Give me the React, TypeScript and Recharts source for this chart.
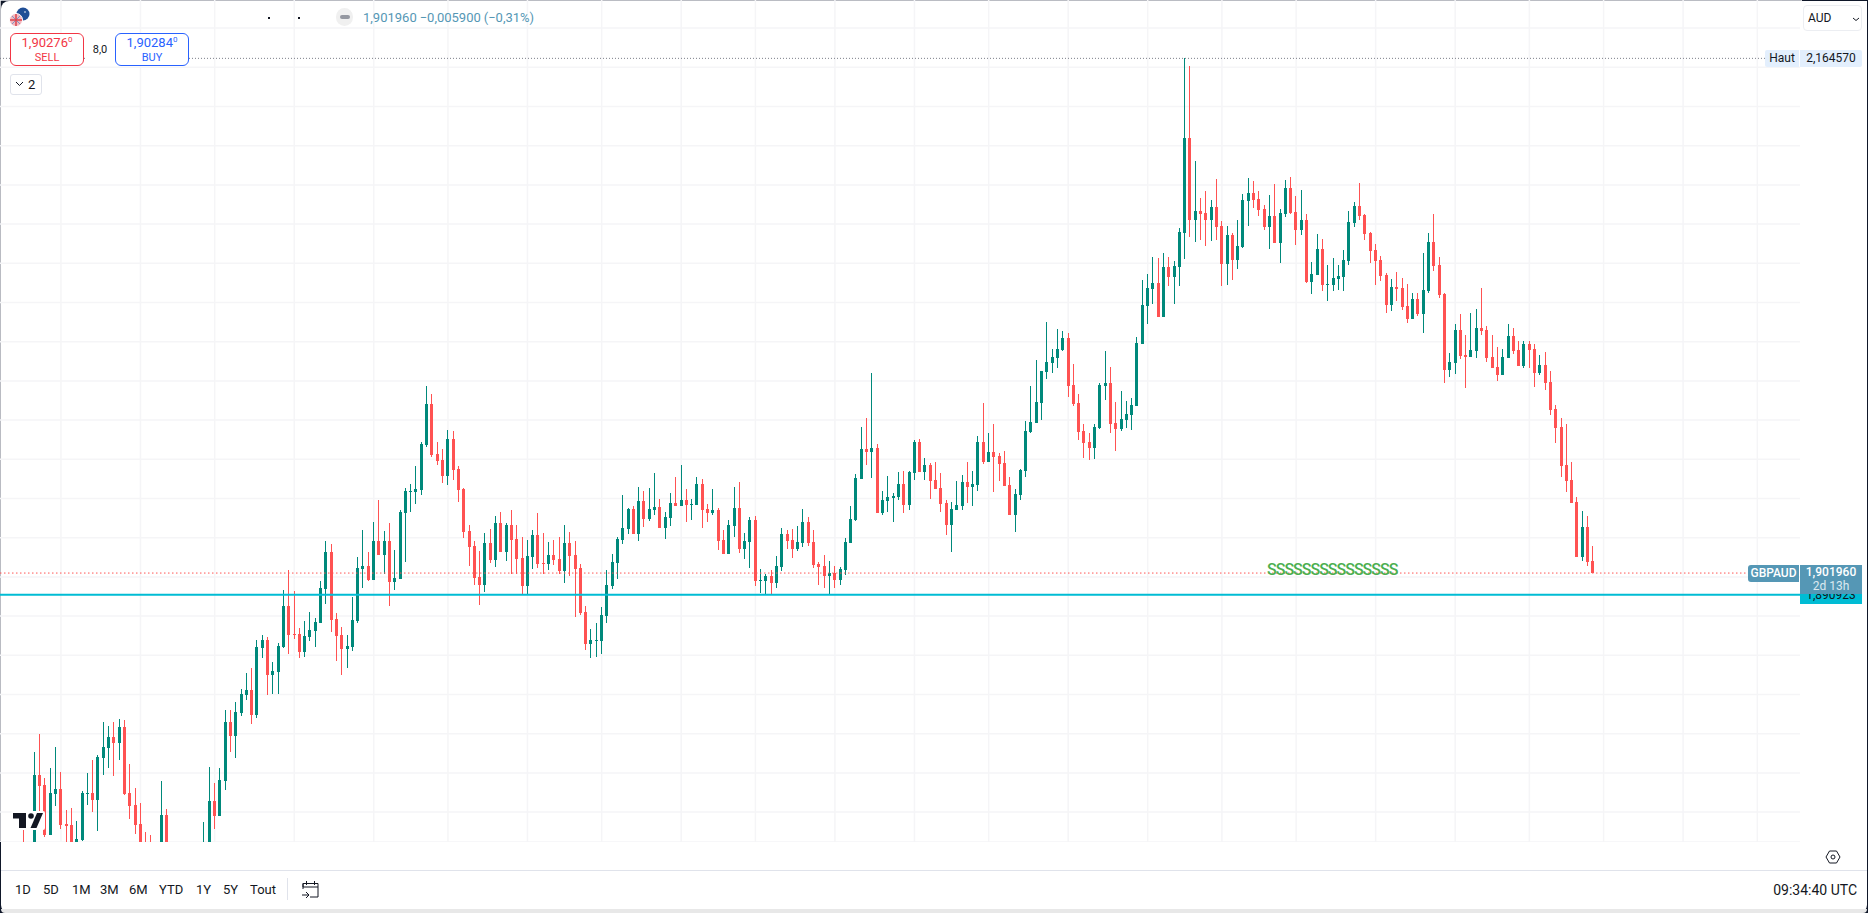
import { Bar, CartesianGrid, ComposedChart, ReferenceLine, XAxis, YAxis } from "recharts";

const _ = null;

// GBPAUD daily candles, oldest first. null = below the visible pane.
const highs = [
  _, _, _, _, 1.7709, _, 1.8107, 1.8198, 1.7972, 1.8023,
  1.8132, 1.8005, 1.7811, 1.7821, 1.7755, 1.7908, 1.8000, 1.8066, 1.8092, 1.8260,
  1.8239, 1.8260, 1.8275, 1.8270, 1.8046, 1.7923, 1.7847, 1.7699, 1.7684, _,
  1.7959, 1.7816, _, _, _, _, _, _, 1.7750, 1.8030,
  1.7949, 1.8025, 1.8321, 1.8321, 1.8362, 1.8428, 1.8510, 1.8535, 1.8678, 1.8703,
  1.8693, 1.8566, 1.8663, 1.8933, 1.9035, 1.8928, 1.8739, 1.8775, 1.8821, 1.8790,
  1.8979, 1.9184, 1.9169, 1.8816, 1.8744, 1.8704, 1.8898, 1.9102, 1.9240, 1.9127,
  1.9280, 1.9393, 1.9235, 1.9276, 1.9138, 1.9342, 1.9452, 1.9475, 1.9566, 1.9689,
  1.9974, 1.9934, 1.9689, 1.9653, 1.9750, 1.9745, 1.9566, 1.9454, 1.9265, 1.9184,
  1.9133, 1.9225, 1.9245, 1.9311, 1.9332, 1.9276, 1.9342, 1.9265, 1.9204, 1.9189,
  1.9240, 1.9327, 1.9225, 1.9179, 1.9189, 1.9204, 1.9265, 1.9230, 1.9184, 1.9067,
  1.8852, 1.8735, 1.8765, 1.8847, 1.9036, 1.9117, 1.9204, 1.9418, 1.9352, 1.9362,
  1.9459, 1.9439, 1.9454, 1.9531, 1.9398, 1.9332, 1.9429, 1.9510, 1.9571, 1.9449,
  1.9398, 1.9510, 1.9500, 1.9373, 1.9449, 1.9352, 1.9240, 1.9291, 1.9459, 1.9485,
  1.9225, 1.9306, 1.9311, 1.9041, 1.9016, 1.9036, 1.9107, 1.9250, 1.9240, 1.9245,
  1.9260, 1.9347, 1.9306, 1.9240, 1.9077, 1.9112, 1.9082, 1.9056, 1.9051, 1.9199,
  1.9362, 1.9526, 1.9765, 1.9811, 2.0041, 1.9679, 1.9439, 1.9515, 1.9429, 1.9536,
  1.9541, 1.9541, 1.9699, 1.9704, 1.9607, 1.9581, 1.9587, 1.9531, 1.9393, 1.9383,
  1.9490, 1.9520, 1.9587, 1.9541, 1.9719, 1.9888, 1.9735, 1.9780, 1.9633, 1.9643,
  1.9510, 1.9449, 1.9551, 1.9796, 1.9974, 2.0107, 2.0051, 2.0301, 2.0163, 2.0265,
  2.0255, 2.0245, 2.0087, 1.9934, 1.9780, 1.9735, 1.9780, 1.9989, 2.0153, 2.0071,
  1.9893, 1.9949, 1.9898, 1.9913, 2.0224, 2.0515, 2.0545, 2.0632, 2.0627, 2.0652,
  2.0632, 2.0612, 2.0780, 2.1646, 2.1606, 2.1122, 2.0933, 2.0969, 2.0923, 2.1030,
  2.0816, 2.0790, 2.0755, 2.0821, 2.0953, 2.1035, 2.1020, 2.0969, 2.0897, 2.0948,
  2.1004, 2.0877, 2.1025, 2.1040, 2.0943, 2.0974, 2.0851, 2.0606, 2.0749, 2.0724,
  2.0591, 2.0627, 2.0591, 2.0668, 2.0867, 2.0912, 2.1009, 2.0851, 2.0759, 2.0698,
  2.0637, 2.0550, 2.0520, 2.0555, 2.0525, 2.0494, 2.0448, 2.0448, 2.0652, 2.0754,
  2.0851, 2.0632, 2.0449, 2.0143, 2.0290, 2.0342, 2.0234, 2.0347, 2.0367, 2.0474,
  2.0280, 2.0234, 2.0173, 2.0163, 2.0290, 2.0270, 2.0204, 2.0204, 2.0204, 2.0188,
  2.0132, 2.0148, 2.0051, 1.9877, 1.9811, 1.9780, 1.9586, 1.9408, 1.9336, 1.9311, 1.9158,
];

const lows = [
  _, _, _, _, 1.7500, _, 1.7573, 1.7802, 1.7675, 1.7683,
  1.7831, 1.7714, 1.7641, 1.7607, 1.7624, 1.7655, 1.7836, 1.7801, 1.7704, 1.7989,
  1.8025, 1.7984, 1.8066, 1.7888, 1.7765, 1.7689, 1.7607, 1.7580, 1.7570, _,
  1.7590, 1.7590, _, _, _, _, _, _, 1.7573, 1.7607,
  1.7714, 1.7780, 1.7913, 1.8107, 1.8076, 1.8290, 1.8372, 1.8250, 1.8280, 1.8586,
  1.8398, 1.8403, 1.8403, 1.8637, 1.8607, 1.8683, 1.8586, 1.8591, 1.8673, 1.8642,
  1.8765, 1.8862, 1.8720, 1.8571, 1.8499, 1.8535, 1.8623, 1.8765, 1.8944, 1.8980,
  1.8985, 1.9112, 1.9015, 1.8852, 1.8934, 1.8990, 1.9077, 1.9332, 1.9373, 1.9418,
  1.9663, 1.9612, 1.9572, 1.9480, 1.9469, 1.9495, 1.9383, 1.9199, 1.9056, 1.8959,
  1.8857, 1.8924, 1.9072, 1.9051, 1.9128, 1.9082, 1.9016, 1.9016, 1.8908, 1.8908,
  1.9041, 1.9046, 1.9016, 1.9036, 1.9061, 1.9016, 1.8970, 1.9005, 1.8796, 1.8806,
  1.8628, 1.8587, 1.8592, 1.8607, 1.8765, 1.8939, 1.8990, 1.9168, 1.9219, 1.9219,
  1.9184, 1.9255, 1.9286, 1.9317, 1.9250, 1.9194, 1.9260, 1.9362, 1.9362, 1.9281,
  1.9291, 1.9367, 1.9250, 1.9281, 1.9317, 1.9138, 1.9117, 1.9117, 1.9204, 1.9122,
  1.9092, 1.9046, 1.8954, 1.8919, 1.8908, 1.8908, 1.8944, 1.9031, 1.9143, 1.9097,
  1.9133, 1.9153, 1.9158, 1.9046, 1.8959, 1.8944, 1.8908, 1.8944, 1.8959, 1.9010,
  1.9174, 1.9286, 1.9500, 1.9571, 1.9505, 1.9326, 1.9316, 1.9331, 1.9280, 1.9393,
  1.9326, 1.9342, 1.9495, 1.9536, 1.9495, 1.9398, 1.9449, 1.9332, 1.9214, 1.9128,
  1.9342, 1.9342, 1.9378, 1.9362, 1.9439, 1.9577, 1.9587, 1.9434, 1.9490, 1.9464,
  1.9316, 1.9229, 1.9393, 1.9510, 1.9735, 1.9786, 1.9801, 2.0010, 2.0041, 2.0066,
  2.0153, 1.9918, 1.9873, 1.9699, 1.9607, 1.9597, 1.9602, 1.9755, 1.9903, 1.9735,
  1.9643, 1.9745, 1.9760, 1.9750, 1.9872, 2.0188, 2.0290, 2.0392, 2.0326, 2.0326,
  2.0484, 2.0392, 2.0484, 2.0622, 2.0734, 2.0709, 2.0719, 2.0688, 2.0714, 2.0719,
  2.0484, 2.0489, 2.0515, 2.0571, 2.0678, 2.0790, 2.0882, 2.0841, 2.0770, 2.0673,
  2.0703, 2.0601, 2.0836, 2.0851, 2.0693, 2.0744, 2.0499, 2.0443, 2.0540, 2.0458,
  2.0407, 2.0458, 2.0463, 2.0458, 2.0591, 2.0785, 2.0821, 2.0719, 2.0601, 2.0489,
  2.0509, 2.0346, 2.0356, 2.0407, 2.0361, 2.0295, 2.0316, 2.0331, 2.0244, 2.0448,
  2.0561, 2.0423, 1.9989, 2.0020, 2.0035, 2.0112, 1.9964, 2.0122, 2.0117, 2.0234,
  2.0097, 2.0066, 2.0000, 2.0030, 2.0117, 2.0137, 2.0076, 2.0066, 2.0066, 1.9969,
  2.0030, 1.9954, 1.9826, 1.9683, 1.9510, 1.9433, 1.9377, 1.9102, 1.9081, 1.9056, 1.9020,
];

const opens = [
  _, _, _, _, 1.7600, _, 1.7607, 1.7989, 1.7938, 1.7683,
  1.7893, 1.7918, 1.7740, 1.7735, 1.7632, 1.7658, 1.7893, 1.7898, 1.7862, 1.8076,
  1.8127, 1.8183, 1.8153, 1.8234, 1.7898, 1.7836, 1.7740, 1.7640, 1.7630, _,
  1.7624, 1.7785, _, _, _, _, _, _, 1.7590, 1.7624,
  1.7857, 1.7780, 1.7959, 1.8260, 1.8188, 1.8306, 1.8398, 1.8423, 1.8296, 1.8637,
  1.8678, 1.8500, 1.8515, 1.8642, 1.8851, 1.8709, 1.8709, 1.8617, 1.8693, 1.8724,
  1.8765, 1.8939, 1.9128, 1.8786, 1.8704, 1.8632, 1.8643, 1.8775, 1.9041, 1.9056,
  1.8985, 1.9184, 1.9112, 1.9184, 1.8975, 1.8990, 1.9327, 1.9434, 1.9434, 1.9444,
  1.9674, 1.9883, 1.9628, 1.9597, 1.9515, 1.9704, 1.9551, 1.9449, 1.9235, 1.9158,
  1.9000, 1.8959, 1.9174, 1.9087, 1.9276, 1.9128, 1.9265, 1.9194, 1.9097, 1.8954,
  1.9102, 1.9215, 1.9072, 1.9067, 1.9112, 1.9092, 1.9031, 1.9174, 1.9112, 1.9046,
  1.8821, 1.8658, 1.8674, 1.8674, 1.8801, 1.8954, 1.9071, 1.9189, 1.9245, 1.9347,
  1.9219, 1.9388, 1.9296, 1.9342, 1.9357, 1.9250, 1.9301, 1.9378, 1.9362, 1.9393,
  1.9367, 1.9367, 1.9475, 1.9347, 1.9327, 1.9342, 1.9189, 1.9117, 1.9260, 1.9352,
  1.9143, 1.9179, 1.9291, 1.8979, 1.8979, 1.9005, 1.8970, 1.9051, 1.9220, 1.9189,
  1.9143, 1.9174, 1.9281, 1.9179, 1.9067, 1.9056, 1.9005, 1.9021, 1.8985, 1.9036,
  1.9174, 1.9291, 1.9500, 1.9653, 1.9638, 1.9658, 1.9326, 1.9388, 1.9403, 1.9408,
  1.9474, 1.9367, 1.9531, 1.9689, 1.9536, 1.9571, 1.9495, 1.9454, 1.9378, 1.9265,
  1.9342, 1.9362, 1.9485, 1.9459, 1.9469, 1.9689, 1.9587, 1.9638, 1.9617, 1.9581,
  1.9469, 1.9316, 1.9418, 1.9541, 1.9740, 1.9786, 1.9888, 2.0046, 2.0092, 2.0117,
  2.0158, 2.0219, 1.9979, 1.9888, 1.9745, 1.9689, 1.9658, 1.9760, 1.9974, 1.9989,
  1.9785, 1.9755, 1.9801, 1.9826, 1.9872, 2.0188, 2.0382, 2.0469, 2.0500, 2.0326,
  2.0581, 2.0530, 2.0581, 2.0754, 2.1239, 2.0821, 2.0867, 2.0857, 2.0821, 2.0887,
  2.0790, 2.0597, 2.0744, 2.0617, 2.0683, 2.0918, 2.0958, 2.0928, 2.0877, 2.0785,
  2.0841, 2.0703, 2.0851, 2.0984, 2.0861, 2.0770, 2.0821, 2.0504, 2.0540, 2.0673,
  2.0489, 2.0489, 2.0519, 2.0530, 2.0611, 2.0805, 2.0892, 2.0846, 2.0754, 2.0668,
  2.0617, 2.0540, 2.0387, 2.0479, 2.0474, 2.0382, 2.0316, 2.0417, 2.0341, 2.0458,
  2.0708, 2.0591, 2.0444, 2.0056, 2.0092, 2.0260, 2.0132, 2.0122, 2.0153, 2.0270,
  2.0260, 2.0122, 2.0071, 2.0030, 2.0117, 2.0229, 2.0158, 2.0076, 2.0188, 2.0163,
  2.0040, 2.0081, 1.9995, 1.9857, 1.9765, 1.9571, 1.9495, 1.9382, 1.9102, 1.9255, 1.9081,
];

const closes = [
  _, _, _, _, 1.7550, _, 1.7989, 1.7933, 1.7683, 1.7898,
  1.7918, 1.7735, 1.7731, 1.7624, 1.7663, 1.7898, 1.7898, 1.7862, 1.8081, 1.8132,
  1.8183, 1.8153, 1.8234, 1.7893, 1.7831, 1.7735, 1.7624, 1.7600, 1.7590, _,
  1.7785, 1.7607, _, _, _, _, _, _, 1.7624, 1.7857,
  1.7780, 1.7964, 1.8260, 1.8188, 1.8311, 1.8403, 1.8423, 1.8296, 1.8642, 1.8678,
  1.8500, 1.8520, 1.8647, 1.8851, 1.8703, 1.8703, 1.8617, 1.8698, 1.8729, 1.8770,
  1.8943, 1.9128, 1.8781, 1.8699, 1.8632, 1.8647, 1.8781, 1.9046, 1.9056, 1.8985,
  1.9184, 1.9112, 1.9184, 1.8975, 1.8995, 1.9332, 1.9439, 1.9439, 1.9449, 1.9679,
  1.9883, 1.9622, 1.9592, 1.9515, 1.9704, 1.9546, 1.9444, 1.9230, 1.9153, 1.8995,
  1.8959, 1.9174, 1.9087, 1.9276, 1.9128, 1.9265, 1.9189, 1.9092, 1.8954, 1.9107,
  1.9215, 1.9067, 1.9067, 1.9112, 1.9087, 1.9031, 1.9174, 1.9107, 1.9041, 1.8816,
  1.8658, 1.8679, 1.8679, 1.8806, 1.8959, 1.9077, 1.9194, 1.9250, 1.9347, 1.9219,
  1.9388, 1.9296, 1.9347, 1.9357, 1.9250, 1.9306, 1.9378, 1.9362, 1.9393, 1.9367,
  1.9373, 1.9475, 1.9342, 1.9327, 1.9342, 1.9184, 1.9117, 1.9265, 1.9352, 1.9143,
  1.9184, 1.9291, 1.8979, 1.8985, 1.9005, 1.8970, 1.9056, 1.9220, 1.9184, 1.9143,
  1.9179, 1.9281, 1.9174, 1.9061, 1.9051, 1.9005, 1.9021, 1.8985, 1.9041, 1.9179,
  1.9296, 1.9505, 1.9653, 1.9638, 1.9658, 1.9326, 1.9393, 1.9408, 1.9413, 1.9474,
  1.9367, 1.9536, 1.9689, 1.9536, 1.9571, 1.9490, 1.9449, 1.9373, 1.9265, 1.9347,
  1.9367, 1.9485, 1.9459, 1.9474, 1.9689, 1.9587, 1.9638, 1.9612, 1.9577, 1.9464,
  1.9316, 1.9423, 1.9546, 1.9745, 1.9791, 1.9893, 2.0051, 2.0097, 2.0122, 2.0163,
  2.0219, 1.9974, 1.9883, 1.9740, 1.9684, 1.9658, 1.9765, 1.9979, 1.9989, 1.9780,
  1.9755, 1.9806, 1.9832, 1.9877, 2.0193, 2.0388, 2.0474, 2.0500, 2.0326, 2.0581,
  2.0530, 2.0586, 2.0760, 2.1239, 2.0821, 2.0867, 2.0851, 2.0821, 2.0887, 2.0785,
  2.0597, 2.0744, 2.0617, 2.0688, 2.0923, 2.0958, 2.0923, 2.0872, 2.0785, 2.0841,
  2.0703, 2.0857, 2.0984, 2.0857, 2.0770, 2.0821, 2.0504, 2.0545, 2.0673, 2.0489,
  2.0494, 2.0525, 2.0535, 2.0617, 2.0810, 2.0892, 2.0841, 2.0749, 2.0663, 2.0611,
  2.0535, 2.0387, 2.0479, 2.0469, 2.0377, 2.0316, 2.0417, 2.0341, 2.0463, 2.0708,
  2.0586, 2.0438, 2.0056, 2.0097, 2.0260, 2.0127, 2.0122, 2.0158, 2.0270, 2.0255,
  2.0117, 2.0066, 2.0030, 2.0122, 2.0229, 2.0153, 2.0076, 2.0188, 2.0158, 2.0040,
  2.0081, 1.9990, 1.9852, 1.9760, 1.9566, 1.9489, 1.9377, 1.9102, 1.9255, 1.9077, 1.90196,
];

const priceGrid = [
  1.78, 1.8, 1.82, 1.84, 1.86, 1.88, 1.9, 1.92, 1.94, 1.96, 1.98,
  2.0, 2.02, 2.04, 2.06, 2.08, 2.1, 2.12, 2.14, 2.16, 2.18,
];
const timeGrid = [
  11, 26, 40, 55, 70, 84, 99, 113, 128, 142, 157, 172, 186, 201, 216, 230, 244, 259, 274, 288, 302, 317, 331,
];
const ranges = ["1D", "5D", "1M", "3M", "6M", "YTD", "1Y", "5Y", "Tout"];
const rangeLeft = [15, 43, 72, 100, 129, 159, 196, 223, 250];

const HIGH_PRICE = 2.16457;
const LAST_PRICE = 1.90196;
const ALERT_PRICE = 1.890923;
const SLOTS = 340; // empty bars to the right of the last candle

const UP = "#00897b";
const DOWN = "#ff5252";
const FONT = "Roboto, 'Noto Sans', sans-serif";

const rows: any[] = [];
for (let i = 0; i < SLOTS; i++) {
  const open = opens[i];
  const close = closes[i];
  const hasCandle = open !== undefined && open !== null;
  rows.push({
    idx: i,
    up: hasCandle && close >= open,
    wick: hasCandle ? [lows[i], highs[i]] : null,
    body: hasCandle ? [Math.min(open, close), Math.max(open, close)] : null,
  });
}

// snaps to whole pixels so the candles stay sharp like the original canvas
function Candle(props: any) {
  const { x, y, width, height, payload } = props;
  if (height === undefined || Number.isNaN(y)) return null;
  const center = Math.floor(x + width / 2);
  const left = center - Math.floor(width / 2);
  const top = Math.round(y);
  const bottom = Math.round(y + height);
  return (
    <rect
      x={left}
      y={top}
      width={width}
      height={Math.max(bottom - top, 1)}
      fill={payload.up ? UP : DOWN}
      shapeRendering="crispEdges"
    />
  );
}

function Label(props: any) {
  const { left, top, width, height, bg, color, children, style } = props;
  return (
    <div
      style={{
        position: "absolute",
        left,
        top,
        width,
        height,
        background: bg,
        color,
        fontFamily: FONT,
        fontSize: 12,
        lineHeight: `${height}px`,
        textAlign: "center",
        ...style,
      }}
    >
      {children}
    </div>
  );
}

function TradeButton({ left, width, color, price, tail, side }: any) {
  return (
    <div
      style={{
        position: "absolute",
        left,
        top: 33,
        width,
        height: 33,
        boxSizing: "border-box",
        border: `1px solid ${color}`,
        borderRadius: 6,
        background: "#fff",
        color,
        fontFamily: FONT,
        textAlign: "center",
      }}
    >
      <div style={{ fontSize: 13, lineHeight: "16px", marginTop: 1 }}>
        {price}
        <sup style={{ fontSize: 8, lineHeight: 0 }}>{tail}</sup>
      </div>
      <div style={{ fontSize: 11, lineHeight: "13px" }}>{side}</div>
    </div>
  );
}

export default function App() {
  return (
    <div
      style={{
        position: "absolute",
        left: 0,
        top: 0,
        width: 1868,
        height: 913,
        overflow: "hidden",
        background: "#0f1729",
      }}
    >
      <div
        style={{
          position: "absolute",
          left: 1,
          top: 1,
          width: 1866,
          height: 912,
          background: "#fff",
          borderRadius: 8,
        }}
      />
      <div style={{ position: "absolute", left: 0, top: 0 }}>
        <ComposedChart
          width={1802.4}
          height={842}
          data={rows}
          margin={{ top: 0, right: 0, bottom: 0, left: 0 }}
          barCategoryGap={0}
        >
          <CartesianGrid stroke="#f5f5f7" strokeWidth={1.5} xAxisId="wick" />
          <XAxis xAxisId="wick" dataKey="idx" type="category" hide ticks={timeGrid} interval={0} />
          <XAxis xAxisId="body" dataKey="idx" type="category" hide />
          <YAxis
            type="number"
            hide
            domain={[1.76474, 2.19434]}
            allowDataOverflow
            ticks={priceGrid}
            interval={0}
          />
          <Bar
            xAxisId="wick"
            dataKey="wick"
            barSize={1}
            shape={Candle}
            isAnimationActive={false}
          />
          <Bar
            xAxisId="body"
            dataKey="body"
            barSize={3}
            shape={Candle}
            isAnimationActive={false}
          />
          <ReferenceLine xAxisId="wick" y={HIGH_PRICE} stroke="#787b86" strokeDasharray="1 2" />
          <ReferenceLine xAxisId="wick" y={LAST_PRICE} stroke="#ff5252" strokeDasharray="1.5 2.5" />
          <ReferenceLine xAxisId="wick" y={ALERT_PRICE} stroke="#00bcd4" strokeWidth={2} />
        </ComposedChart>
      </div>

      {/* price scale column */}
      <div style={{ position: "absolute", left: 1800, top: 1, width: 67, height: 841, background: "#fff" }} />

      {/* Signal marks */}
      <div
        style={{
          position: "absolute",
          left: 1267,
          top: 560,
          color: "#4caf50",
          fontFamily: FONT,
          fontSize: 16,
          fontWeight: 500,
          lineHeight: "20px",
          letterSpacing: -1,
          whiteSpace: "nowrap",
        }}
      >
        SSSSSSSSSSSSSSS
      </div>

      {/* TradingView mark */}
      <svg style={{ position: "absolute", left: 10, top: 810 }} width={36} height={21}>
        <rect x={1} y={1} width={34} height={19} fill="#fff" rx={2} />
        <path d="M3 3h13v15H9V8.500H3z" fill="#131722" />
        <circle cx={21} cy={6} r={2.8} fill="#131722" />
        <path d="M27 3h6l-6.500 15h-6z" fill="#131722" />
      </svg>

      {/* symbol header */}
      <svg style={{ position: "absolute", left: 8, top: 6 }} width={24} height={22}>
        <circle cx={15} cy={8} r={6.5} fill="#1f4e96" />
        <circle cx={17} cy={6} r={0.8} fill="#fff" />
        <circle cx={8} cy={14} r={6.5} fill="#f3b6bd" stroke="#fff" />
        <path d="M4 10l8 8M12 10l-8 8" stroke="#7f96c4" />
        <path d="M2 14h12M8 8v12" stroke="#d9444f" strokeWidth={1.5} />
      </svg>
      <div style={{ position: "absolute", left: 268, top: 17, width: 2, height: 2, background: "#131722" }} />
      <div style={{ position: "absolute", left: 298, top: 17, width: 2, height: 2, background: "#131722" }} />
      <div style={{ position: "absolute", left: 336, top: 8, width: 17, height: 18, borderRadius: 9, background: "#f0f0f0" }} />
      <div style={{ position: "absolute", left: 340, top: 15, width: 10, height: 4, borderRadius: 2, background: "#9598a1" }} />
      <div
        style={{
          position: "absolute",
          left: 363,
          top: 9,
          fontFamily: FONT,
          fontSize: 13,
          lineHeight: "18px",
          color: "#5597b5",
          whiteSpace: "pre",
          wordSpacing: -1.75,
        }}
      >
        {"1,901960  −0,005900  (−0,31%)"}
      </div>

      <TradeButton left={10} width={74} color="#f23645" price="1,90276" tail="0" side="SELL" />
      <TradeButton left={115} width={74} color="#2962ff" price="1,90284" tail="0" side="BUY" />
      <div
        style={{
          position: "absolute",
          left: 85,
          top: 41,
          width: 30,
          textAlign: "center",
          fontFamily: FONT,
          fontSize: 11,
          lineHeight: "18px",
          color: "#131722",
          background: "#fff",
        }}
      >
        8,0
      </div>

      <div
        style={{
          position: "absolute",
          left: 10,
          top: 74,
          width: 32,
          height: 21,
          boxSizing: "border-box",
          border: "1px solid #e0e3eb",
          borderRadius: 3,
          background: "#fff",
          fontFamily: FONT,
          fontSize: 13,
          lineHeight: "19px",
          color: "#131722",
          paddingLeft: 4,
        }}
      >
        <svg width={9} height={6} style={{ marginRight: 4, marginBottom: 2 }}>
          <path d="M1 1l3.500 3.500L8 1" stroke="#131722" fill="none" />
        </svg>
        2
      </div>

      {/* currency box */}
      <div
        style={{
          position: "absolute",
          left: 1803,
          top: 5,
          width: 59,
          height: 26,
          boxSizing: "border-box",
          border: "1px solid #eceef2",
          borderRadius: 4,
          fontFamily: FONT,
          fontSize: 12,
          lineHeight: "24px",
          color: "#131722",
          paddingLeft: 4,
        }}
      >
        AUD
        <svg width={8} height={5} style={{ position: "absolute", left: 48, top: 11 }}>
          <path d="M1 1l3 2.500L7 1" stroke="#131722" fill="none" />
        </svg>
      </div>

      {/* price labels */}
      <Label left={1765} top={50} width={34} height={17} bg="#e3effd" color="#131722" style={{ borderRadius: "2px 0 0 2px" }}>Haut</Label>
      <Label left={1800} top={50} width={62} height={17} bg="#e3effd" color="#131722" style={{ borderRadius: "0 2px 2px 0" }}>2,164570</Label>
      <Label left={1748} top={565} width={51} height={17} bg="#5597b5" color="#fff" style={{ borderRadius: "3px 0 0 3px", fontWeight: 500 }}>GBPAUD</Label>
      <Label left={1800} top={587} width={62} height={17} bg="#00bcd4" color="#131722" style={{ lineHeight: "16px" }}>1,890923</Label>
      <div style={{ position: "absolute", left: 1800, top: 565, width: 62, height: 29, background: "#5597b5", fontFamily: FONT, textAlign: "center" }}>
        <div style={{ fontSize: 12, lineHeight: "15px", color: "#fff", fontWeight: 500 }}>1,901960</div>
        <div style={{ fontSize: 12, lineHeight: "13px", color: "#dbe9f0" }}>2d 13h</div>
      </div>

      {/* bottom toolbar */}
      <div style={{ position: "absolute", left: 1, top: 870, width: 1866, height: 1, background: "#e0e3eb" }} />
      {ranges.map((r, i) => (
        <div
          key={r}
          style={{
            position: "absolute",
            left: rangeLeft[i],
            top: 881,
            fontFamily: FONT,
            fontSize: 13,
            lineHeight: "18px",
            color: "#131722",
          }}
        >
          {r}
        </div>
      ))}
      <div style={{ position: "absolute", left: 287, top: 878, width: 1, height: 22, background: "#e0e3eb" }} />
      <svg style={{ position: "absolute", left: 301, top: 879 }} width={20} height={20}>
        <path
          d="M2 10V4.500h15V18h-8M2 4.500V8h15M5.500 2v4M13.500 2v4M1 16h7M5 13l3 3-3 3"
          fill="none"
          stroke="#131722"
        />
      </svg>
      <svg style={{ position: "absolute", left: 1825, top: 849 }} width={16} height={16}>
        <path d="M1 8l3.500-6h7L15 8l-3.500 6h-7z" fill="none" stroke="#131722" />
        <circle cx={8} cy={8} r={2} fill="none" stroke="#131722" />
      </svg>
      <div
        style={{
          position: "absolute",
          right: 11,
          top: 881,
          fontFamily: FONT,
          fontSize: 14,
          lineHeight: "18px",
          color: "#131722",
        }}
      >
        09:34:40 UTC
      </div>
      <div style={{ position: "absolute", left: 1, top: 909, width: 1866, height: 4, background: "#e8e8e8", borderRadius: "0 0 8px 8px" }} />
    </div>
  );
}
